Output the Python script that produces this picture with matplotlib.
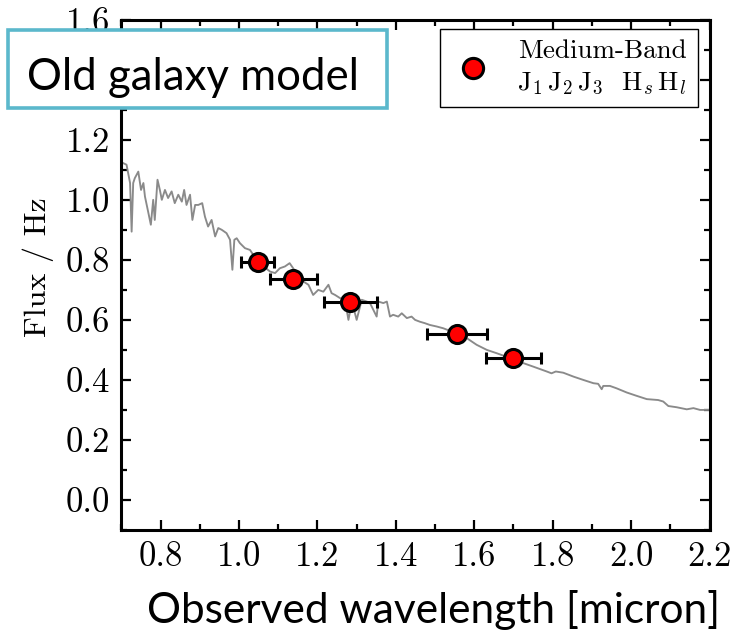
import matplotlib
matplotlib.use("Agg")
import matplotlib.pyplot as plt
from matplotlib.patches import Rectangle

plt.rcParams['font.family'] = ['cmr10']
plt.rcParams['mathtext.fontset'] = 'cm'
plt.rcParams['axes.unicode_minus'] = False
plt.rcParams['axes.formatter.use_mathtext'] = True

# Model spectrum (observed wavelength [micron], flux)
spec_wave = [0.705, 0.713, 0.722, 0.726, 0.730, 0.734, 0.743, 0.750, 0.756, 0.760,
             0.768, 0.775, 0.781, 0.785, 0.792, 0.798, 0.803, 0.811, 0.819, 0.828,
             0.836, 0.845, 0.854, 0.860, 0.866, 0.875, 0.881, 0.888, 0.896, 0.906,
             0.913, 0.921, 0.930, 0.939, 0.947, 0.956, 0.968, 0.977, 0.983, 0.988,
             0.994, 1.002, 1.015, 1.028, 1.041, 1.058, 1.079, 1.092, 1.104, 1.117,
             1.129, 1.138, 1.150, 1.164, 1.177, 1.189, 1.202, 1.215, 1.228, 1.236,
             1.245, 1.257, 1.270, 1.279, 1.288, 1.300, 1.313, 1.326, 1.334, 1.351,
             1.355, 1.368, 1.377, 1.385, 1.393, 1.406, 1.415, 1.428, 1.440, 1.449,
             1.461, 1.474, 1.487, 1.504, 1.521, 1.551, 1.581, 1.606, 1.632, 1.657,
             1.691, 1.725, 1.751, 1.785, 1.797, 1.808, 1.827, 1.853, 1.878, 1.904,
             1.916, 1.925, 1.929, 1.946, 1.963, 1.989, 2.014, 2.040, 2.069, 2.082,
             2.095, 2.116, 2.142, 2.159, 2.176, 2.200]
spec_flux = [1.122, 1.117, 1.056, 0.894, 1.056, 1.072, 1.094, 1.033, 1.056, 1.011,
             0.961, 0.917, 1.000, 0.933, 1.067, 1.033, 1.000, 1.033, 1.006, 1.028,
             0.989, 1.017, 0.994, 1.033, 0.983, 1.017, 0.933, 0.983, 0.983, 0.989,
             0.944, 0.911, 0.933, 0.878, 0.906, 0.900, 0.889, 0.867, 0.767, 0.867,
             0.872, 0.856, 0.839, 0.833, 0.807, 0.783, 0.761, 0.756, 0.772, 0.778,
             0.789, 0.772, 0.750, 0.728, 0.717, 0.683, 0.700, 0.694, 0.717, 0.689,
             0.683, 0.673, 0.667, 0.600, 0.660, 0.600, 0.667, 0.661, 0.656, 0.611,
             0.661, 0.656, 0.661, 0.611, 0.617, 0.611, 0.622, 0.606, 0.611, 0.600,
             0.594, 0.589, 0.583, 0.578, 0.572, 0.557, 0.539, 0.517, 0.500, 0.489,
             0.473, 0.456, 0.444, 0.428, 0.422, 0.428, 0.424, 0.411, 0.400, 0.389,
             0.387, 0.369, 0.380, 0.380, 0.372, 0.358, 0.347, 0.336, 0.333, 0.328,
             0.313, 0.309, 0.302, 0.306, 0.300, 0.300]

# Medium-band photometry
band_wave = [1.048, 1.138, 1.284, 1.556, 1.700]
band_flux = [0.794, 0.736, 0.658, 0.552, 0.472]
band_halfwidth = [0.042, 0.060, 0.067, 0.077, 0.071]

xticks = [0.8, 1.0, 1.2, 1.4, 1.6, 1.8, 2.0, 2.2]
yticks = [0.0, 0.2, 0.4, 0.6, 0.8, 1.0, 1.2, 1.4, 1.6]

fig = plt.figure(figsize=(7.36, 6.37), dpi=100)
ax = fig.add_axes([0.165, 0.168, 0.799, 0.801])

ax.plot(spec_wave, spec_flux, color='#8a8a8a', lw=1.35, zorder=2)
ax.errorbar(band_wave, band_flux, xerr=band_halfwidth, fmt='none', ecolor='black',
            elinewidth=2.2, capsize=4, capthick=2.2, zorder=3)
ax.plot(band_wave, band_flux, 'o', mfc='red', mec='black', mew=2.2, ms=13, zorder=4,
        label='Medium-Band\nJ$_1\\,$J$_2\\,$J$_3$  H$_s\\,$H$_l$')

ax.set_xlim(0.7, 2.2)
ax.set_ylim(-0.1, 1.6)
ax.set_xticks(xticks)
ax.set_yticks(yticks)
ax.set_xticks([0.7 + 0.1 * i for i in range(16)], minor=True)
ax.set_yticks([-0.1 + 0.1 * i for i in range(18)], minor=True)
ax.set_xticklabels([f'{v:.1f}' for v in xticks])
ax.set_yticklabels([f'{v:.1f}' for v in yticks])
ax.tick_params(which='both', direction='in', top=True, right=True, labelsize=25)
ax.tick_params(which='major', length=7, width=1.6, pad=8)
ax.tick_params(which='minor', length=4, width=1.6)
for s in ax.spines.values():
    s.set_linewidth(2.2)

ax.set_ylabel('Flux / Hz', fontsize=23)
ax.yaxis.set_label_coords(-0.115, 0.516)

leg = ax.legend(loc='upper right', bbox_to_anchor=(0.98, 0.982), borderaxespad=0,
                fancybox=False, edgecolor='black', framealpha=1, fontsize=19.5,
                handlelength=1.65, handletextpad=0.8, borderpad=0.4, numpoints=1,
                markerscale=1.12)
leg.get_frame().set_linewidth(1.0)
for t in leg.get_texts():
    t.set_multialignment('right')
    t.set_linespacing(1.35)

# Title box
fig.add_artist(Rectangle((8 / 736, 1 - 108 / 637), 379 / 736, 78 / 637,
                         transform=fig.transFigure, facecolor='white',
                         edgecolor='#5bb8cc', linewidth=2.6, zorder=10))
fig.text(193 / 736, 1 - 90 / 637, 'Old galaxy model', fontsize=31.5, family='Lato',
         ha='center', va='baseline', zorder=11)

fig.text(434 / 736, 1 - 610 / 637, 'Observed wavelength [micron]', fontsize=30.5,
         family='Lato', ha='center', va='center')

fig.savefig('out.png', dpi=100)
